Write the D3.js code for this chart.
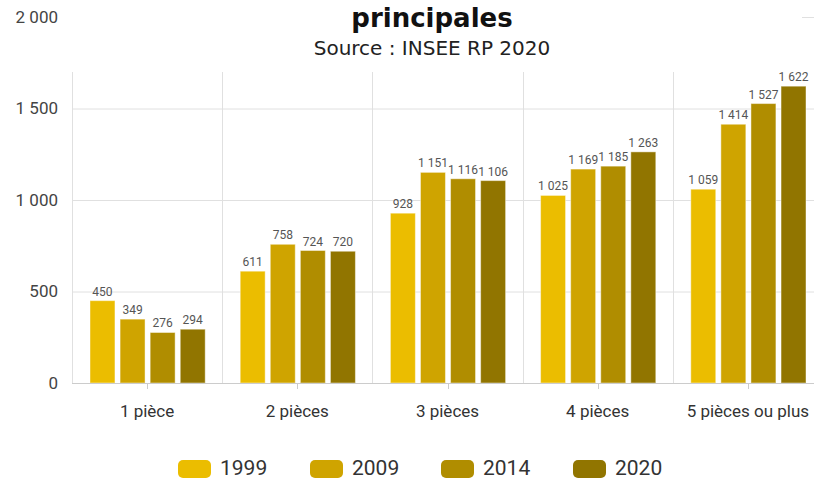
<!DOCTYPE html>
<html>
<head>
<meta charset="utf-8">
<script src="https://cdn.jsdelivr.net/npm/d3@7"></script>
<style>
  html, body { margin: 0; padding: 0; background: #fff; }
  svg { display: block; }
</style>
</head>
<body>
<svg id="chart" width="814" height="480"></svg>
<script>
// Résidences principales par nombre de pièces
const categories = ["1 pièce", "2 pièces", "3 pièces", "4 pièces", "5 pièces ou plus"];
const years = ["1999", "2009", "2014", "2020"];
const values1999 = [450, 611, 928, 1025, 1059];
const values2009 = [349, 758, 1151, 1169, 1414];
const values2014 = [276, 724, 1116, 1185, 1527];
const values2020 = [294, 720, 1106, 1263, 1622];
const yTicks = [0, 500, 1000, 1500, 2000];
const colors = ["#ebbd00", "#cfa400", "#b08d00", "#917500"];

const seriesValues = [values1999, values2009, values2014, values2020];

const svg = d3.select("#chart");
const margin = { left: 72, right: -9, top: 17, bottom: 97 };
const width = 814, height = 480;
const fmt = v => d3.format(",")(v).replace(/,/g, "\u00a0");

const x0 = d3.scaleBand().domain(categories).range([margin.left, width - margin.right]).paddingInner(0).paddingOuter(0);
const x1 = d3.scaleBand().domain(years).range([18, x0.bandwidth() - 17]).paddingInner(0.17).paddingOuter(0);
const y = d3.scaleLinear().domain([0, 2000]).range([height - margin.bottom, margin.top]);

const labelFont = "Roboto, 'Noto Sans', sans-serif";

// horizontal grid
svg.append("g").selectAll("line").data(yTicks.slice(1)).join("line")
  .attr("x1", margin.left).attr("x2", width)
  .attr("y1", d => y(d) + 0.5).attr("y2", d => y(d) + 0.5)
  .attr("stroke", "#e0e0e0").attr("stroke-width", 1);

// vertical grid at category boundaries
const bounds = categories.map(c => x0(c));
svg.append("g").selectAll("line").data(bounds).join("line")
  .attr("x1", d => Math.round(d) + 0.5).attr("x2", d => Math.round(d) + 0.5)
  .attr("y1", margin.top).attr("y2", y(0))
  .attr("stroke", "#e0e0e0").attr("stroke-width", 1);

// title backdrop
svg.append("rect").attr("x", 62).attr("y", 0).attr("width", 740).attr("height", 72).attr("fill", "#fff");

// y axis labels
svg.append("g").selectAll("text").data(yTicks).join("text")
  .attr("x", 58).attr("y", d => y(d)).attr("dy", "0.35em")
  .attr("text-anchor", "end")
  .attr("font-family", labelFont).attr("font-size", 17).attr("fill", "#444")
  .text(d => fmt(d));

// bars
const groups = svg.append("g").selectAll("g").data(categories).join("g")
  .attr("transform", c => `translate(${x0(c)},0)`);

groups.each(function(c, ci) {
  const g = d3.select(this);
  years.forEach((yr, si) => {
    const v = seriesValues[si][ci];
    g.append("rect")
      .attr("x", x1(yr)).attr("y", y(v))
      .attr("width", x1.bandwidth()).attr("height", y(0) - y(v))
      .attr("fill", colors[si])
      .attr("stroke", "rgba(255,255,255,0.45)").attr("stroke-width", 1);
    g.append("text")
      .attr("x", x1(yr) + x1.bandwidth() / 2).attr("y", y(v) - 5)
      .attr("text-anchor", "middle")
      .attr("font-family", labelFont).attr("font-size", 12).attr("fill", "#555")
      .text(fmt(v));
  });
});

// x axis baseline and ticks
svg.append("line")
  .attr("x1", margin.left).attr("x2", width)
  .attr("y1", y(0) + 0.5).attr("y2", y(0) + 0.5)
  .attr("stroke", "#cccccc");
svg.append("g").selectAll("line").data(categories).join("line")
  .attr("x1", c => Math.round(x0(c) + x0.bandwidth() / 2) + 0.5)
  .attr("x2", c => Math.round(x0(c) + x0.bandwidth() / 2) + 0.5)
  .attr("y1", y(0)).attr("y2", y(0) + 6)
  .attr("stroke", "#cccccc");
svg.append("g").selectAll("text").data(categories).join("text")
  .attr("x", c => x0(c) + x0.bandwidth() / 2).attr("y", 411).attr("dy", "0.35em")
  .attr("text-anchor", "middle")
  .attr("font-family", labelFont).attr("font-size", 17).attr("fill", "#333")
  .text(c => c);

// title
svg.append("text").attr("x", 432).attr("y", 27).attr("text-anchor", "middle")
  .attr("font-family", "'DejaVu Sans', sans-serif").attr("font-weight", 700)
  .attr("font-size", 26).attr("fill", "#111").text("principales");
svg.append("text").attr("x", 432).attr("y", 55).attr("text-anchor", "middle")
  .attr("font-family", "'DejaVu Sans', sans-serif")
  .attr("font-size", 20).attr("fill", "#222").text("Source : INSEE RP 2020");

// legend
const legendX = [178, 310, 441, 573];
const legend = svg.append("g").selectAll("g").data(years).join("g")
  .attr("transform", (d, i) => `translate(${legendX[i]},460)`);
legend.append("rect").attr("width", 33).attr("height", 18).attr("rx", 5)
  .attr("fill", (d, i) => colors[i]);
legend.append("text").attr("x", 42).attr("y", 8).attr("dy", "0.35em")
  .attr("font-family", labelFont).attr("font-size", 21).attr("fill", "#333")
  .text(d => d);
</script>
</body>
</html>
